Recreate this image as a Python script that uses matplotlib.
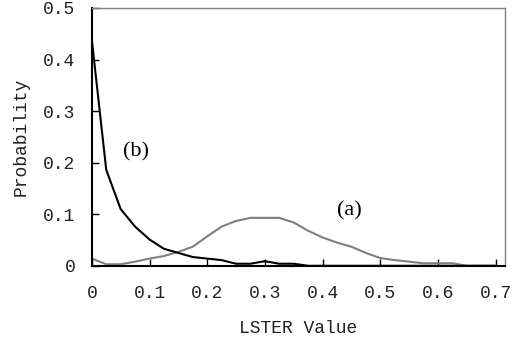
import matplotlib
matplotlib.use("Agg")
import matplotlib.pyplot as plt

# LSTER values (x) and probabilities
lster = [0.0, 0.025, 0.05, 0.075, 0.1, 0.125, 0.15, 0.175, 0.2, 0.225,
         0.25, 0.275, 0.3, 0.325, 0.35, 0.375, 0.4, 0.425, 0.45, 0.475,
         0.5, 0.525, 0.55, 0.575, 0.6, 0.625, 0.65, 0.675, 0.7]
prob_a = [0.014, 0.003, 0.003, 0.008, 0.014, 0.019, 0.027, 0.037, 0.057, 0.076,
          0.087, 0.093, 0.093, 0.093, 0.084, 0.068, 0.055, 0.045, 0.037, 0.025,
          0.015, 0.011, 0.008, 0.005, 0.005, 0.005, 0.0, 0.0, 0.0]
prob_b = [0.438, 0.186, 0.110, 0.076, 0.051, 0.033, 0.025, 0.017, 0.014, 0.011,
          0.004, 0.004, 0.009, 0.004, 0.004, 0.0, 0.0, 0.0, 0.0, 0.0,
          0.0, 0.0, 0.0, 0.0, 0.0, 0.0, 0.0, 0.0, 0.0]
x_ticks = [0, 0.1, 0.2, 0.3, 0.4, 0.5, 0.6, 0.7]
x_ticklabels = ["0", "0.1", "0.2", "0.3", "0.4", "0.5", "0.6", "0.7"]
y_ticks = [0, 0.1, 0.2, 0.3, 0.4, 0.5]
y_ticklabels = ["0", "0.1", "0.2", "0.3", "0.4", "0.5"]

mono = "Liberation Mono"
serif = "Liberation Serif"

fig = plt.figure(figsize=(5.13, 3.47), dpi=100)
ax = fig.add_axes([0.179, 0.234, 0.805, 0.743])

ax.plot(lster, prob_b, color="#000000", lw=1.5, solid_joinstyle="round", zorder=3)
ax.plot(lster, prob_a, color="#7f7f7f", lw=1.5, solid_joinstyle="round", zorder=2)

ax.set_xlim(0, 0.716)
ax.set_ylim(0, 0.5)
ax.set_xticks(x_ticks)
ax.set_xticklabels(x_ticklabels, fontfamily=mono, fontsize=13, color="#222222")
ax.set_yticks(y_ticks)
ax.set_yticklabels(y_ticklabels, fontfamily=mono, fontsize=13, color="#222222")
ax.tick_params(axis="x", direction="in", length=5, width=1, pad=14)
ax.tick_params(axis="y", direction="in", length=5, width=1, pad=12)

for s in ["left", "bottom"]:
    ax.spines[s].set_color("black")
    ax.spines[s].set_linewidth(1.5)
for s in ["top", "right"]:
    ax.spines[s].set_color("#808080")
    ax.spines[s].set_linewidth(1.0)

ax.set_xlabel("LSTER Value", fontfamily=mono, fontsize=13, color="#222222")
ax.xaxis.set_label_coords(0.5, -0.21)
ax.set_ylabel("Probability", fontfamily=mono, fontsize=13, color="#222222")
ax.yaxis.set_label_coords(-0.15, 0.5)

ax.text(0.076, 0.221, "(b)", fontfamily=serif, fontsize=16, ha="center", va="center")
ax.text(0.447, 0.106, "(a)", fontfamily=serif, fontsize=16, ha="center", va="center")

fig.savefig("out.png", dpi=100)
